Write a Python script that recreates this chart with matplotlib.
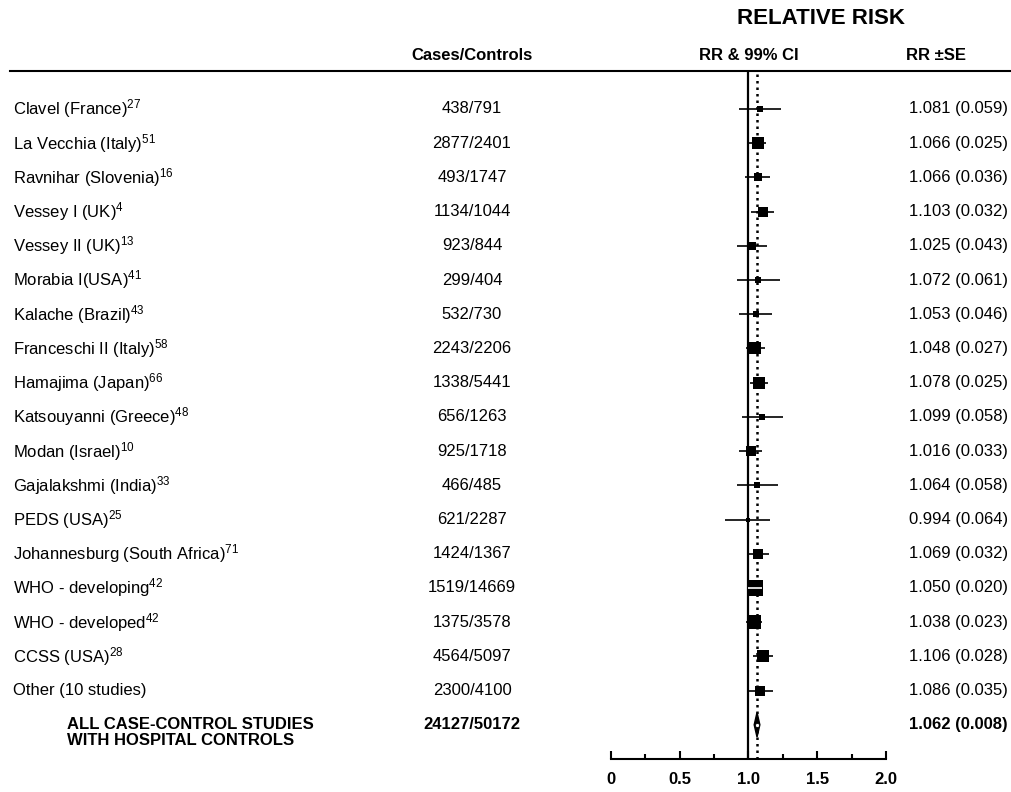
import matplotlib
matplotlib.use("Agg")
import matplotlib.pyplot as plt
import matplotlib.transforms as mtransforms
from matplotlib.lines import Line2D
from matplotlib.ticker import MultipleLocator, FixedLocator

plt.rcParams['font.family'] = ['Liberation Sans', 'DejaVu Sans']
plt.rcParams['mathtext.fontset'] = 'custom'
plt.rcParams['mathtext.rm'] = 'Liberation Sans'
plt.rcParams['mathtext.default'] = 'regular'

# study data
studies = ["Clavel (France)", "La Vecchia (Italy)", "Ravnihar (Slovenia)",
           "Vessey I (UK)", "Vessey II (UK)", "Morabia I(USA)",
           "Kalache (Brazil)", "Franceschi II (Italy)", "Hamajima (Japan)",
           "Katsouyanni (Greece)", "Modan (Israel)", "Gajalakshmi (India)",
           "PEDS (USA)", "Johannesburg (South Africa)", "WHO - developing",
           "WHO - developed", "CCSS (USA)", "Other (10 studies)"]
refs = ["27", "51", "16", "4", "13", "41", "43", "58", "66", "48", "10",
        "33", "25", "71", "42", "42", "28", ""]
cases = ["438/791", "2877/2401", "493/1747", "1134/1044", "923/844",
         "299/404", "532/730", "2243/2206", "1338/5441", "656/1263",
         "925/1718", "466/485", "621/2287", "1424/1367", "1519/14669",
         "1375/3578", "4564/5097", "2300/4100"]
rr = [1.081, 1.066, 1.066, 1.103, 1.025, 1.072, 1.053, 1.048, 1.078,
      1.099, 1.016, 1.064, 0.994, 1.069, 1.050, 1.038, 1.106, 1.086]
se = [0.059, 0.025, 0.036, 0.032, 0.043, 0.061, 0.046, 0.027, 0.025,
      0.058, 0.033, 0.058, 0.064, 0.032, 0.020, 0.023, 0.028, 0.035]

pooled_label = ["ALL CASE-CONTROL STUDIES", "WITH HOSPITAL CONTROLS"]
pooled_cases = "24127/50172"
pooled_rr = 1.062
pooled_se = 0.008

z99 = 2.576
W, H = 1012, 792
PX_PER_RR = 137.0
FS = 12

fig = plt.figure(figsize=(W / 100, H / 100), dpi=100)
ax = fig.add_axes([611 / W, 1 - 759 / H, (886 - 611) / W, (759 - 72) / H])
ax.set_xlim(0, 2)
ax.set_ylim(19.0, -1.08)

for s in ["top", "left", "right"]:
    ax.spines[s].set_visible(False)
ax.spines["bottom"].set_linewidth(1.5)
ax.set_yticks([])
ax.xaxis.set_major_locator(FixedLocator([0, 0.5, 1.0, 1.5, 2.0]))
ax.xaxis.set_minor_locator(MultipleLocator(0.25))
ax.set_xticklabels(["0", "0.5", "1.0", "1.5", "2.0"], fontweight="bold", fontsize=12)
ax.tick_params(axis="x", which="major", direction="in", length=6, width=1.5, pad=9)
ax.tick_params(axis="x", which="minor", direction="in", length=3.5, width=1.5)

# reference lines
ax.axvline(1.0, color="black", lw=1.6, zorder=1)
ax.axvline(pooled_rr, color="black", lw=1.8, linestyle=(0, (1, 1.6)), zorder=1)

for i in range(len(studies)):
    lo = rr[i] - z99 * se[i]
    hi = rr[i] + z99 * se[i]
    ax.plot([lo, hi], [i, i], color="black", lw=1.2, zorder=2, solid_capstyle="butt")
    side_px = 0.32 / se[i]
    ax.plot(rr[i], i, marker="s", markersize=side_px * 0.72, color="black",
            markeredgewidth=0, zorder=3)
    half_box = side_px / 2 / PX_PER_RR
    if z99 * se[i] < half_box:
        ax.plot([lo, hi], [i, i], color="white", lw=1.2, zorder=4, solid_capstyle="butt")

# pooled diamond
prow = len(studies)
hw = z99 * pooled_se
hh = 0.36
ax.fill([pooled_rr - hw, pooled_rr, pooled_rr + hw, pooled_rr],
        [prow, prow - hh, prow, prow + hh], color="black", zorder=3)
ax.plot(pooled_rr, prow, marker="o", markersize=3, color="white",
        markeredgecolor="black", markeredgewidth=0.6, zorder=4)

# text columns
trans = mtransforms.blended_transform_factory(fig.transFigure, ax.transData)
for i in range(len(studies)):
    label = studies[i] + (f"$^{{{refs[i]}}}$" if refs[i] else "")
    fig.text(13 / W, i, label, transform=trans, ha="left", va="center", fontsize=FS)
    fig.text(472 / W, i, cases[i], transform=trans, ha="center", va="center", fontsize=FS)
    fig.text(1008 / W, i, f"{rr[i]:.3f} ({se[i]:.3f})", transform=trans,
             ha="right", va="center", fontsize=FS)

for k, line in enumerate(pooled_label):
    fig.text(67 / W, prow + 0.47 * k, line, transform=trans, ha="left",
             va="center", fontsize=FS, fontweight="bold")
fig.text(472 / W, prow, pooled_cases, transform=trans, ha="center",
         va="center", fontsize=FS, fontweight="bold")
fig.text(1008 / W, prow, f"{pooled_rr:.3f} ({pooled_se:.3f})", transform=trans,
         ha="right", va="center", fontsize=FS, fontweight="bold")

# headers
fig.text(821 / W, 1 - 18 / H, "RELATIVE RISK", ha="center", va="center",
         fontsize=16, fontweight="bold")
fig.text(472 / W, 1 - 56 / H, "Cases/Controls", ha="center", va="center",
         fontsize=FS, fontweight="bold")
fig.text(749 / W, 1 - 56 / H, "RR & 99% CI", ha="center", va="center",
         fontsize=FS, fontweight="bold")
fig.text(936 / W, 1 - 56 / H, "RR \u00b1SE", ha="center", va="center",
         fontsize=FS, fontweight="bold")
fig.add_artist(Line2D([10 / W, 1.0], [1 - 71 / H, 1 - 71 / H], color="black",
                      lw=1.5, transform=fig.transFigure))

fig.savefig("out.png", dpi=100)
